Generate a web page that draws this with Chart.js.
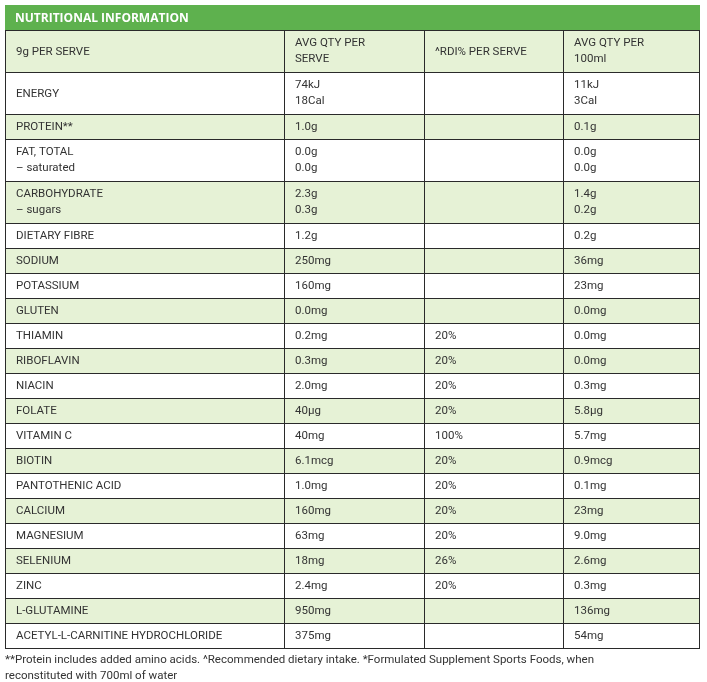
<!DOCTYPE html>
<html><head><meta charset="utf-8">
<script src="https://cdn.jsdelivr.net/npm/chart.js@4/dist/chart.umd.min.js"></script>
<style>html,body{margin:0;padding:0;background:#fff}#wrap{width:707px;height:682px}</style>
</head><body><div id="wrap"><canvas id="c"></canvas></div>
<script>
const title = "NUTRITIONAL INFORMATION";
const headers = ["9g PER SERVE", "AVG QTY PER\nSERVE", "^RDI% PER SERVE", "AVG QTY PER\n100ml"];
const nutrients = ["ENERGY","PROTEIN**","FAT, TOTAL\n– saturated","CARBOHYDRATE\n– sugars","DIETARY FIBRE","SODIUM","POTASSIUM","GLUTEN","THIAMIN","RIBOFLAVIN","NIACIN","FOLATE","VITAMIN C","BIOTIN","PANTOTHENIC ACID","CALCIUM","MAGNESIUM","SELENIUM","ZINC","L-GLUTAMINE","ACETYL-L-CARNITINE HYDROCHLORIDE"];
const perServe = ["74kJ\n18Cal","1.0g","0.0g\n0.0g","2.3g\n0.3g","1.2g","250mg","160mg","0.0mg","0.2mg","0.3mg","2.0mg","40µg","40mg","6.1mcg","1.0mg","160mg","63mg","18mg","2.4mg","950mg","375mg"];
const rdiPct = ["","","","","","","","","20%","20%","20%","20%","100%","20%","20%","20%","20%","26%","20%","",""];
const per100ml = ["11kJ\n3Cal","0.1g","0.0g\n0.0g","1.4g\n0.2g","0.2g","36mg","23mg","0.0mg","0.0mg","0.0mg","0.3mg","5.8µg","5.7mg","0.9mcg","0.1mg","23mg","9.0mg","2.6mg","0.3mg","136mg","54mg"];
const shaded = [false,true,false,true,false,true,false,true,false,true,false,true,false,true,false,true,false,true,false,true,false];
const footnote = ["**Protein includes added amino acids. ^Recommended dietary intake. *Formulated Supplement Sports Foods, when","reconstituted with 700ml of water"];

const colEdges = [5, 284, 424, 563, 700];
const tableTop = 5, titleH = 25, lineH = 17, rowPad = 8;

const tablePlugin = {
  id: 'table',
  afterDraw(chart) {
    const ctx = chart.ctx, xs = chart.scales.x, ys = chart.scales.y;
    const X = v => xs.getPixelForValue(v), Y = v => ys.getPixelForValue(v);
    ctx.save();
    // title bar
    ctx.fillStyle = '#5eb14e';
    ctx.fillRect(X(colEdges[0]), Y(tableTop), X(colEdges[4]) - X(colEdges[0]), Y(tableTop + titleH) - Y(tableTop));
    ctx.fillStyle = '#fff'; ctx.font = 'bold 12px "Open Sans", sans-serif'; ctx.textBaseline = 'middle';
    ctx.fillText(title, X(colEdges[0] + 10), Y(tableTop + titleH / 2 + 1));
    const rows = [{cells: headers, shade: true}].concat(nutrients.map((n, i) => ({cells: [n, perServe[i], rdiPct[i], per100ml[i]], shade: shaded[i]})));
    let y = tableTop + titleH;
    ctx.font = '11.5px Roboto, sans-serif';
    rows.forEach(r => {
      const lines = Math.max(...r.cells.map(c => c.split('\n').length));
      const h = rowPad + lineH * lines;
      if (r.shade) { ctx.fillStyle = '#e6f2d6'; ctx.fillRect(X(colEdges[0]), Y(y), X(colEdges[4]) - X(colEdges[0]), Y(y + h) - Y(y)); }
      ctx.fillStyle = '#333';
      r.cells.forEach((c, ci) => {
        const ls = c.split('\n');
        const start = y + h / 2 - (ls.length - 1) * lineH / 2;
        ls.forEach((t, li) => ctx.fillText(t, X(colEdges[ci] + 11), Y(start + li * 16 + 1)));
      });
      ctx.strokeStyle = '#2a2a2a'; ctx.lineWidth = 1;
      ctx.strokeRect(X(colEdges[0]) + 0.5, Y(y) + 0.5, X(colEdges[4]) - X(colEdges[0]) - 1, Y(y + h) - Y(y));
      colEdges.slice(1, 4).forEach(cx => { ctx.beginPath(); ctx.moveTo(Math.round(X(cx)) + 0.5, Y(y)); ctx.lineTo(Math.round(X(cx)) + 0.5, Y(y + h)); ctx.stroke(); });
      y += h;
    });
    ctx.fillStyle = '#333'; ctx.font = '11.5px Roboto, sans-serif';
    footnote.forEach((t, i) => ctx.fillText(t, X(colEdges[0]), Y(y + 12 + i * 16)));
    ctx.restore();
  }
};

new Chart(document.getElementById('c'), {
  type: 'scatter',
  data: { datasets: [{ data: [] }] },
  options: {
    responsive: true, maintainAspectRatio: false, animation: false,
    layout: { padding: 0 },
    plugins: { legend: { display: false }, tooltip: { enabled: false } },
    scales: {
      x: { type: 'linear', min: 0, max: 707, display: false },
      y: { type: 'linear', min: 0, max: 682, reverse: true, display: false }
    }
  },
  plugins: [tablePlugin]
});
</script></body></html>
